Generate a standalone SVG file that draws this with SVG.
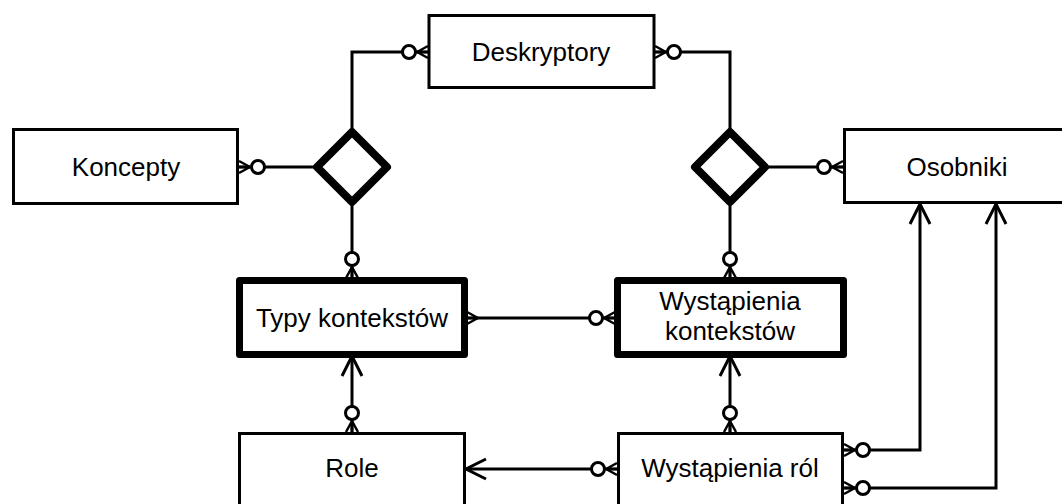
<svg xmlns="http://www.w3.org/2000/svg" width="1062" height="504" viewBox="0 0 1062 504">
<style>
.box{fill:#fff;stroke:#000;stroke-width:3}
.weak{fill:#fff;stroke:#000;stroke-width:7;stroke-linejoin:round}
.dia{fill:#fff;stroke:#000;stroke-width:8;stroke-linejoin:round}
.ln{fill:none;stroke:#000;stroke-width:3}
.t{font-family:"Liberation Sans",Arial,sans-serif;font-size:26px;fill:#000;text-anchor:middle}
</style>
<defs>
<g id="cf"><path d="M-11,0 L0,-6 M-11,0 L0,0 M-11,0 L0,6" fill="none" stroke="#000" stroke-width="2.5"/></g>
<g id="mo"><use href="#cf"/><circle cx="-19" cy="0" r="6.5" fill="#fff" stroke="#000" stroke-width="3"/></g>
<g id="one"><path d="M-20,-10 L0,0 L-20,10" fill="none" stroke="#000" stroke-width="3"/></g>
</defs>
<g id="connectors">
<path class="ln" d="M428,52 H352 V132"/>
<path class="ln" d="M655,52 H730 V132"/>
<path class="ln" d="M239,167 H317"/>
<path class="ln" d="M765,167 H843"/>
<path class="ln" d="M352,202 V277"/>
<path class="ln" d="M730,202 V277"/>
<path class="ln" d="M468,318 H614"/>
<path class="ln" d="M352,358 V432"/>
<path class="ln" d="M730,358 V432"/>
<path class="ln" d="M466,469 H617"/>
<path class="ln" d="M844,450 H920 V204"/>
<path class="ln" d="M844,488 H996 V204"/>
<use href="#mo" transform="translate(428,52)"/>
<use href="#mo" transform="translate(655,52) rotate(180)"/>
<use href="#mo" transform="translate(239,167) rotate(180)"/>
<use href="#mo" transform="translate(843,167)"/>
<use href="#mo" transform="translate(352,278) rotate(90)"/>
<use href="#mo" transform="translate(730,278) rotate(90)"/>
<use href="#mo" transform="translate(615,318)"/>
<use href="#cf" transform="translate(467,318) rotate(180)"/>
<use href="#mo" transform="translate(352,432) rotate(90)"/>
<use href="#mo" transform="translate(730,432) rotate(90)"/>
<use href="#mo" transform="translate(617,469)"/>
<use href="#mo" transform="translate(844,450) rotate(180)"/>
<use href="#mo" transform="translate(844,488) rotate(180)"/>
<use href="#one" transform="translate(352,356) rotate(-90)"/>
<use href="#one" transform="translate(730,356) rotate(-90)"/>
<use href="#one" transform="translate(466,469) rotate(180)"/>
<use href="#one" transform="translate(920,204) rotate(-90)"/>
<use href="#one" transform="translate(996,204) rotate(-90)"/>
</g>
<g id="deskryptory"><rect class="box" x="429" y="15.5" width="225" height="72"/><text class="t" x="541" y="61">Deskryptory</text></g>
<g id="koncepty"><rect class="box" x="13.5" y="129.5" width="224" height="74"/><text class="t" x="126" y="176">Koncepty</text></g>
<g id="osobniki"><rect class="box" x="844.5" y="129.5" width="240" height="73"/><text class="t" x="957" y="176">Osobniki</text></g>
<g id="rel-left"><path class="dia" d="M352,132 L387,167 L352,202 L317,167 Z"/></g>
<g id="rel-right"><path class="dia" d="M730,132 L765,167 L730,202 L695,167 Z"/></g>
<g id="typy"><rect class="weak" x="239.5" y="280.5" width="225" height="74"/><text class="t" x="352" y="327">Typy kontekstów</text></g>
<g id="wystapienia-kontekstow"><rect class="weak" x="617.5" y="280.5" width="226" height="74"/><text class="t" x="730" y="310">Wystąpienia</text><text class="t" x="730" y="340">kontekstów</text></g>
<g id="role"><rect class="box" x="239.5" y="433.5" width="225" height="80"/><text class="t" x="352" y="477">Role</text></g>
<g id="wystapienia-rol"><rect class="box" x="618.5" y="433.5" width="224" height="80"/><text class="t" x="730" y="477">Wystąpienia ról</text></g>
</svg>
